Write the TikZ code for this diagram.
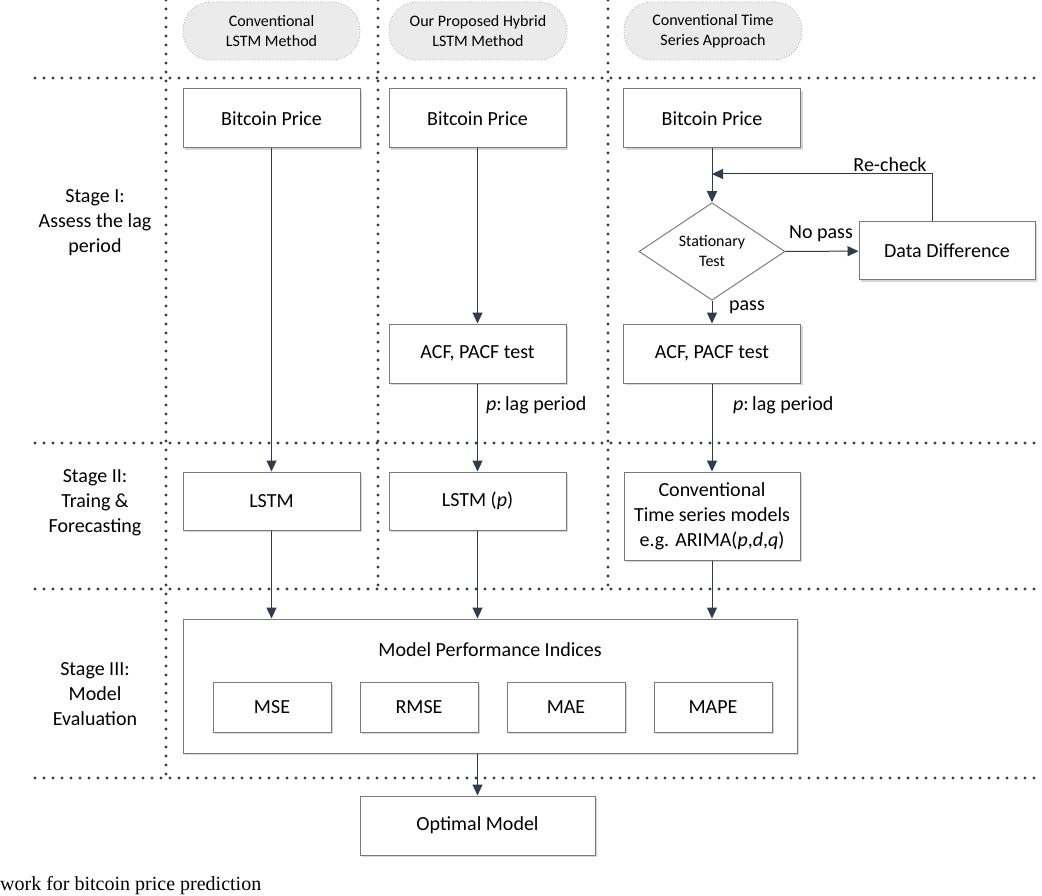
\documentclass[tikz,border=0pt]{standalone}
\usepackage{fontspec}
\setmainfont{Carlito}
\newfontfamily\capfont{Liberation Serif}
\usetikzlibrary{shapes.geometric,arrows.meta,shadows}
\definecolor{boxcol}{HTML}{7A7A7A}
\definecolor{arrcol}{HTML}{333A48}
\definecolor{dotcol}{HTML}{363C48}
\definecolor{pillfill}{HTML}{EBEBEB}
\definecolor{pillline}{HTML}{A8A8A8}
\begin{document}
\begin{tikzpicture}[x=1pt,y=-1pt,
  sz/.style 2 args={minimum width=#1pt, minimum height=#2pt},
  box/.style={draw=boxcol, line width=1pt, fill=white, inner sep=0pt, align=center,
    font=\fontsize{20}{25}\selectfont,
    drop shadow={shadow xshift=2pt, shadow yshift=-2pt, fill=black!16, opacity=1}},
  pill/.style={draw=pillline, fill=pillfill, line width=0.8pt, dotted, rounded corners=28pt,
    inner sep=0pt, align=center, font=\fontsize{16}{20}\selectfont, text=black},
  decision/.style={shape=diamond, draw=boxcol, line width=1pt, fill=white, inner sep=0pt,
    align=center, font=\fontsize{16}{20}\selectfont},
  lbl/.style={inner sep=0pt, font=\fontsize{20}{25}\selectfont},
  stagelbl/.style={inner sep=0pt, align=center, font=\fontsize{20}{25}\selectfont},
  arr/.style={draw=arrcol, line width=1pt, -{Triangle[length=11pt,width=10pt]}},
  sep/.style={draw=dotcol, line width=3.2pt, line cap=round, dash pattern=on 0pt off 9pt}]
\useasboundingbox (0,0) rectangle (1042,896);
\fill[white] (0,0) rectangle (1042,896);

% separators
\draw[sep] (35,78) -- (1040,78);
\draw[sep] (35,443) -- (1040,443);
\draw[sep] (35,589) -- (1040,589);
\draw[sep] (35,778) -- (1040,778);
\draw[sep] (166,0) -- (166,778);
\draw[sep] (378,0) -- (378,589);
\draw[sep] (608,0) -- (608,589);

% headers
\node[pill, sz={177}{58}] (h1) at (271.5,31) {Conventional\\LSTM Method};
\node[pill, sz={178}{58}] (h2) at (478,31) {Our Proposed Hybrid\\LSTM Method};
\node[pill, sz={178}{58}] (h3) at (713,31) {Conventional Time\\Series Approach};

% stage labels
\node[stagelbl] (s1) at (95,223) {Stage I:\\Assess the lag\\period};
\node[stagelbl] (s2) at (95,503) {Stage II:\\Traing \&\\Forecasting};
\node[stagelbl] (s3) at (95,694) {Stage III:\\Model\\Evaluation};

% column 1
\node[box, sz={177}{59}] (bp1) at (271.5,118.5) {Bitcoin Price};
\node[box, sz={177}{58}] (lstm) at (271.5,501) {LSTM};

% column 2
\node[box, sz={177}{59}] (bp2) at (477.5,118.5) {Bitcoin Price};
\node[box, sz={177}{59}] (acf2) at (477.5,353.5) {ACF, PACF test};
\node[box, sz={177}{58}] (lstmp) at (477.5,501) {LSTM (\textit{p})};

% column 3
\node[box, sz={177}{59}] (bp3) at (712,118.5) {Bitcoin Price};
\node[decision, sz={146}{87}] (st) at (712,251.5) {Stationary\\Test};
\node[box, sz={176}{58}] (dd) at (947,251) {Data Difference};
\node[box, sz={177}{59}] (acf3) at (712,353.5) {ACF, PACF test};
\node[box, sz={176}{88}] (cts) at (712,516) {Conventional\\Time series models\\e.g. ARIMA(\textit{p},\textit{d},\textit{q})};

% evaluation
\node[box, sz={614}{134}] (mpi) at (490,686) {};
\node[lbl] (mpit) at (490,650) {Model Performance Indices};
\node[box, sz={118}{50}] (mse) at (272,707) {MSE};
\node[box, sz={118}{50}] (rmse) at (419,707) {RMSE};
\node[box, sz={118}{50}] (mae) at (566,707) {MAE};
\node[box, sz={118}{50}] (mape) at (713,707) {MAPE};
\node[box, sz={235}{59}] (opt) at (477.5,825.5) {Optimal Model};

% labels
\node[lbl] (rcl) at (890,165) {Re-check};
\node[lbl] (npl) at (821,234) {No pass};
\node[lbl] (pl) at (747,307) {pass};
\node[lbl, anchor=west] (lag2) at (486,405) {\textit{p}:\,lag period};
\node[lbl, anchor=west] (lag3) at (733,405) {\textit{p}:\,lag period};

% connectors
\draw[arr] (bp1) -- (lstm);
\draw[arr] (bp2) -- (acf2);
\draw[arr] (acf2) -- (lstmp);
\draw[arr] (bp3) -- (st);
\draw[arr] (st) -- (dd);
\coordinate (rc) at (932,174);
\draw[arr] (dd.north -| rc) -- (rc) -- (rc -| st.north);
\draw[arr] (st) -- (acf3);
\draw[arr] (acf3) -- (cts);
\draw[arr] (lstm) -- (lstm.south |- mpi.north);
\draw[arr] (lstmp) -- (lstmp.south |- mpi.north);
\draw[arr] (cts) -- (cts.south |- mpi.north);
\draw[arr] (mpi.south -| opt.north) -- (opt);

% caption
\node[anchor=base west, inner sep=0pt, font=\capfont\fontsize{20}{24}\selectfont] (cap) at (0,890) {work for bitcoin price prediction};
\end{tikzpicture}
\end{document}
